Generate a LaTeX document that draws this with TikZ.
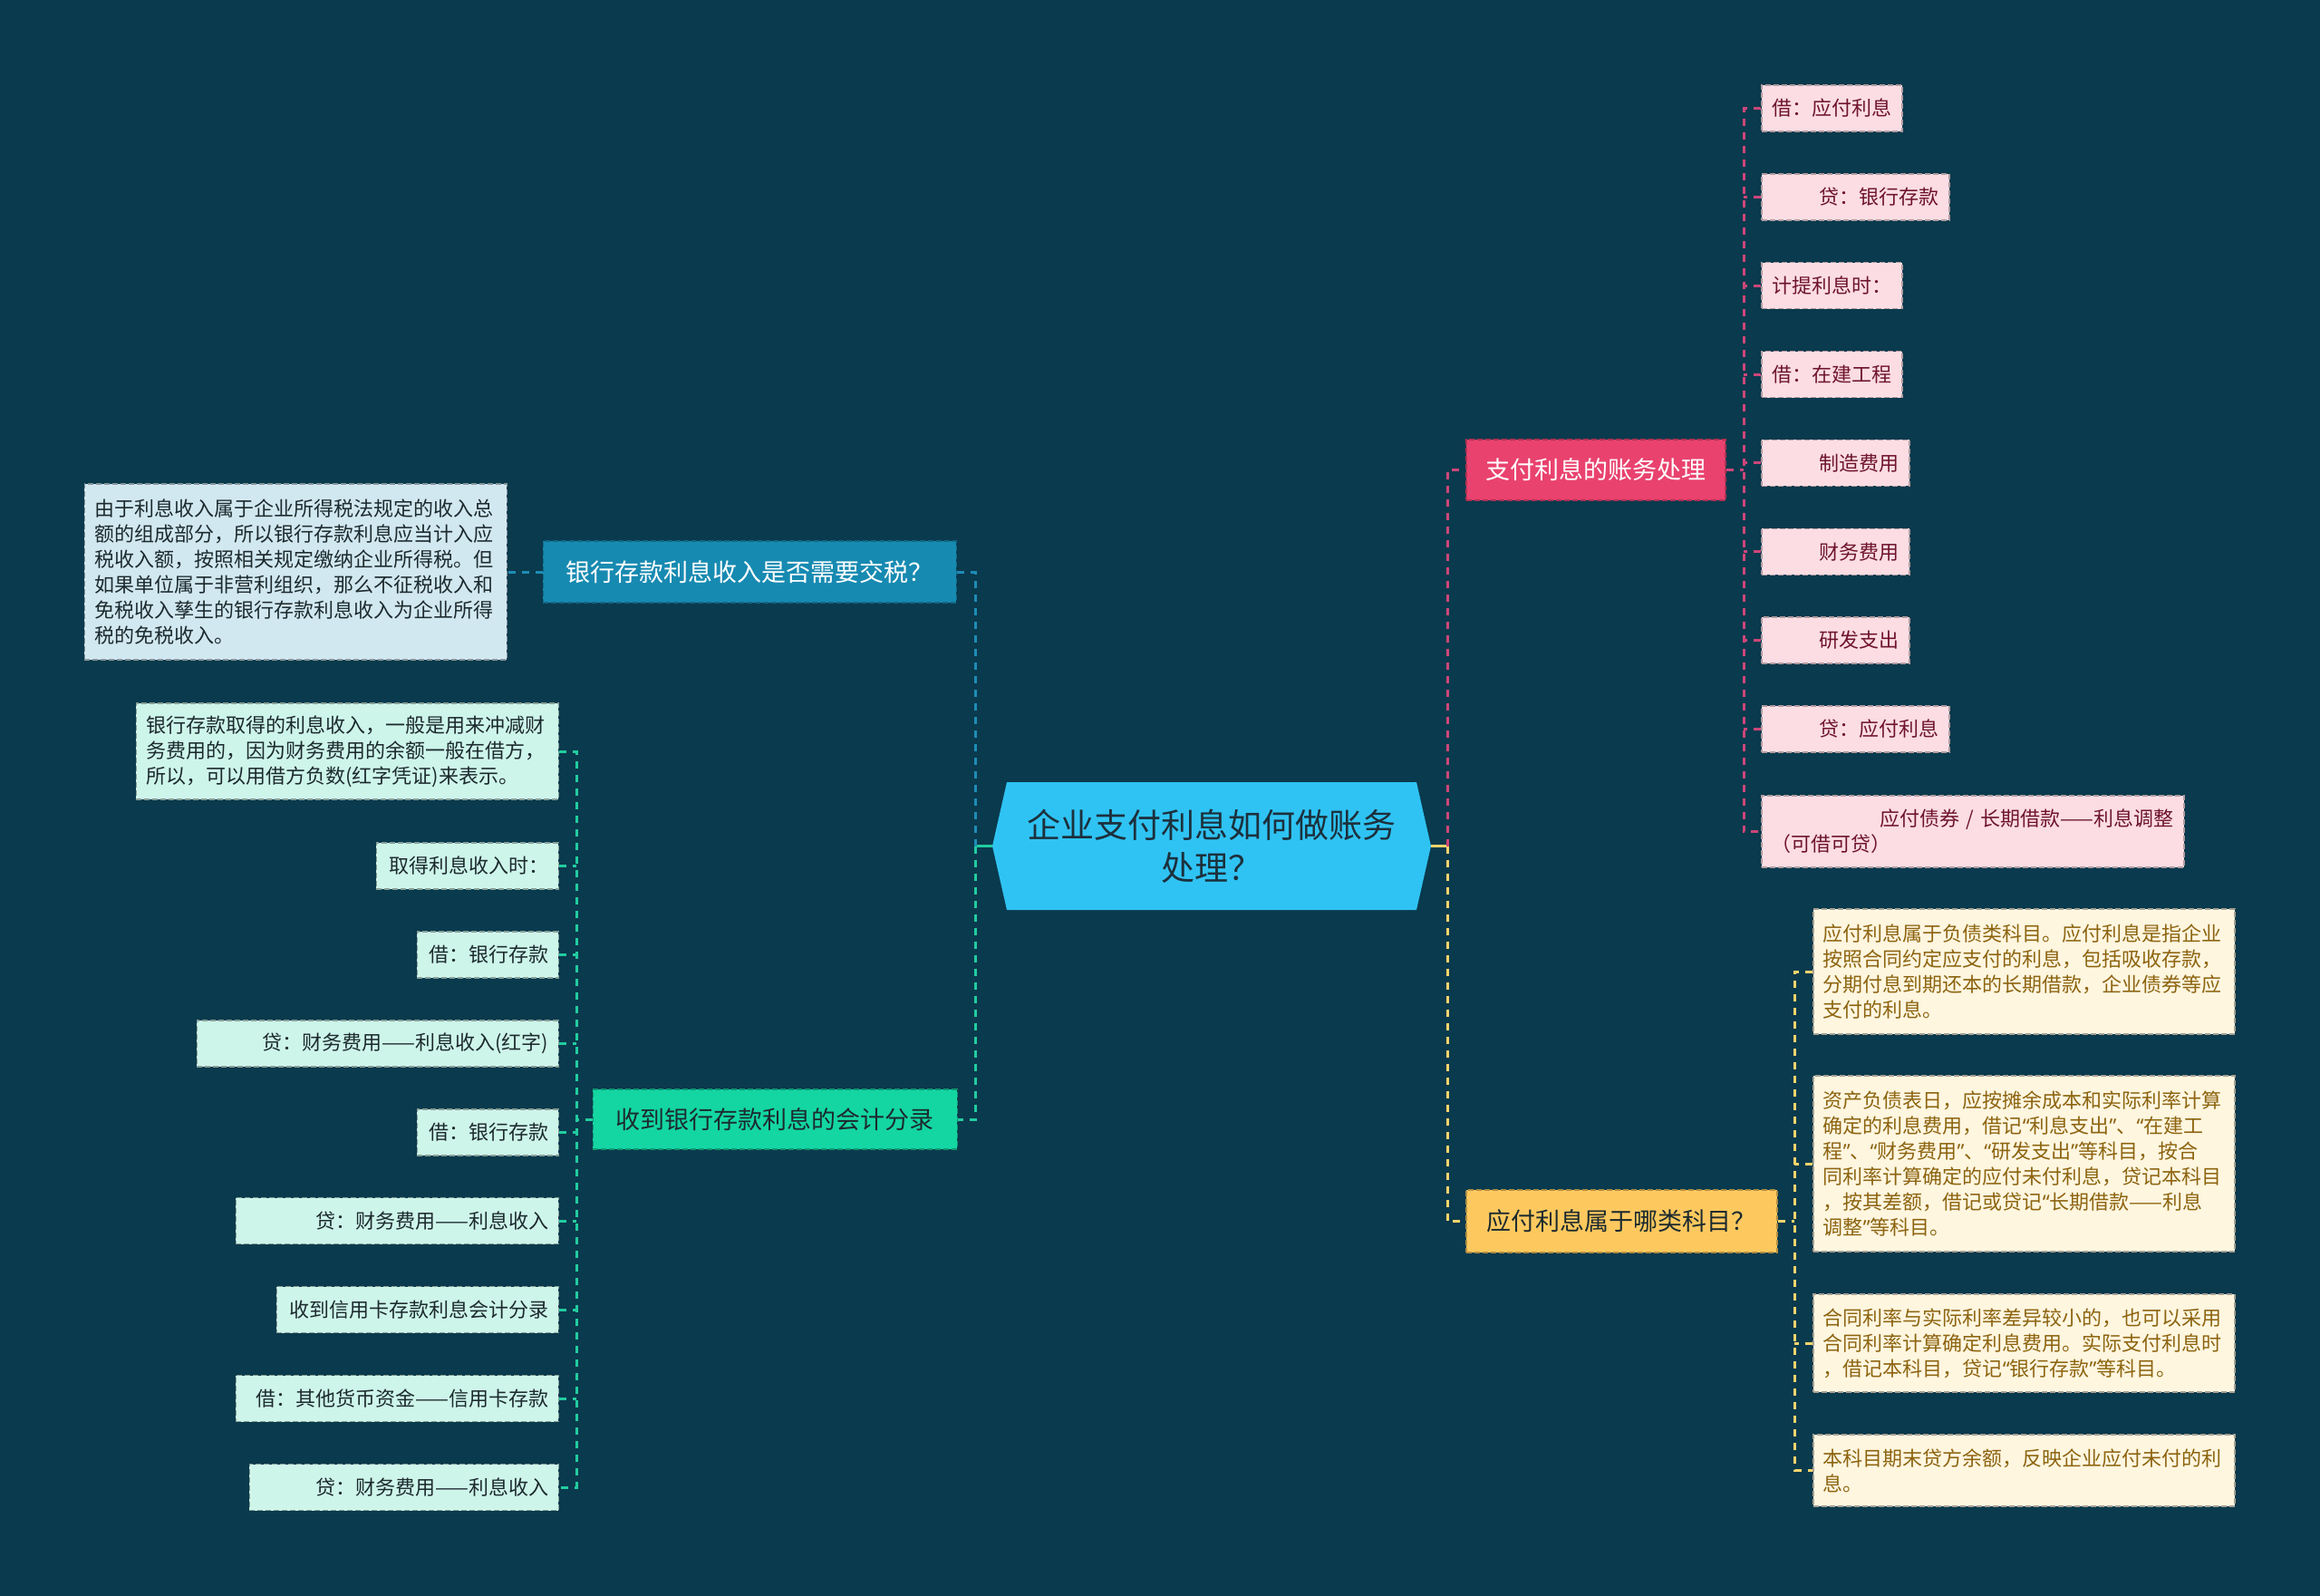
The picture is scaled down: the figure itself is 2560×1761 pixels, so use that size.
\documentclass[tikz,border=0pt]{standalone}
\usepackage{fontspec}
\setmainfont{Noto Sans CJK SC}
\newfontfamily\quotefont{Noto Sans}
\newcommand{\qopen}{{\quotefont “}}
\newcommand{\qclose}{{\quotefont ”}}
\usepackage{tikz}
\usetikzlibrary{positioning}
\definecolor{bgteal}{RGB}{10,58,77}
\definecolor{hubblue}{RGB}{47,195,243}
\definecolor{hubink}{RGB}{28,48,60}
\definecolor{payred}{RGB}{233,66,110}
\definecolor{payfill}{RGB}{252,221,228}
\definecolor{payink}{RGB}{110,20,45}
\definecolor{paylink}{RGB}{205,70,122}
\definecolor{oweyellow}{RGB}{253,201,95}
\definecolor{owefill}{RGB}{255,246,224}
\definecolor{oweink}{RGB}{140,100,15}
\definecolor{owelink}{RGB}{248,212,108}
\definecolor{taxblue}{RGB}{23,138,177}
\definecolor{taxfill}{RGB}{210,232,240}
\definecolor{taxlink}{RGB}{30,140,182}
\definecolor{recgreen}{RGB}{20,214,162}
\definecolor{recfill}{RGB}{206,245,234}
\definecolor{reclink}{RGB}{34,204,160}
\definecolor{darkink}{RGB}{28,42,46}

\tikzset{
    branchbox/.style={inner sep=0pt, dash pattern=on 6pt off 3pt, line width=1.5pt,
        font=\fontsize{27}{32}\selectfont},
    leafbox/.style={inner xsep=11pt, inner ysep=0pt, minimum height=51pt,
        dash pattern=on 6pt off 3pt, line width=1.5pt,
        font=\fontsize{22}{28}\selectfont, align=right},
    payleaf/.style={leafbox, fill=payfill, draw=payfill!70!black, text=payink},
    oweleaf/.style={leafbox, fill=owefill, draw=owefill!65!black, text=oweink, align=left},
    taxleaf/.style={leafbox, fill=taxfill, draw=taxfill!65!black, text=darkink, align=left},
    recleaf/.style={leafbox, fill=recfill, draw=recfill!65!black, text=darkink},
    link/.style={line width=3pt, dash pattern=on 8pt off 7pt},
    hubstub/.style={line width=3pt}
}

\begin{document}
\begin{tikzpicture}[x=1pt,y=-1pt]
    \fill[bgteal] (0,0) rectangle (2560,1761);
    \useasboundingbox (0,0) rectangle (2560,1761);

    % centre
    \fill[hubblue] (1111,863) -- (1563,863) -- (1579,933.5) -- (1563,1004)
        -- (1111,1004) -- (1095,933.5) -- cycle;
    \node[
        inner sep=0pt,
        minimum width=484pt,
        minimum height=141pt,
        text=hubink,
        align=center,
        font=\fontsize{37}{47}\selectfont
    ] (hub) at (1337,933.5) {企业支付利息如何做账务\\处理？};

    % branches
    \node[branchbox, fill=payred, draw=payred!75!black, text=white,
        minimum width=286pt, minimum height=67pt, anchor=west] (pay) at (1617,518.5) {支付利息的账务处理};
    \node[branchbox, fill=oweyellow, draw=oweyellow!70!black, text=darkink,
        minimum width=343pt, minimum height=69pt, anchor=west] (owe) at (1617,1347.5) {应付利息属于哪类科目？};
    \node[branchbox, fill=taxblue, draw=taxblue!75!black, text=white,
        minimum width=456pt, minimum height=68pt, anchor=east] (tax) at (1056,631) {银行存款利息收入是否需要交税？};
    \node[branchbox, fill=recgreen, draw=recgreen!70!black, text=darkink,
        minimum width=402pt, minimum height=66pt, anchor=east] (rec) at (1057,1235) {收到银行存款利息的会计分录};

    % junctions
    \coordinate (rjoin) at (1597,933.5);
    \coordinate (ljoin) at (1076,933.5);
    \coordinate (payjoin) at (1924,518.5);
    \coordinate (owejoin) at (1980,1347.5);
    \coordinate (recjoin) at (636,1235);

    % pay leaves
    \node[payleaf, text width=133pt, anchor=west] (pay1) at (1943,119.5) {借：应付利息};
    \node[payleaf, text width=185pt, anchor=west] (pay2) at (1943,217.4) {贷：银行存款};
    \node[payleaf, text width=133pt, anchor=west] (pay3) at (1943,315.2) {计提利息时：};
    \node[payleaf, text width=133pt, anchor=west] (pay4) at (1943,413.1) {借：在建工程};
    \node[payleaf, text width=141pt, anchor=west] (pay5) at (1943,510.9) {制造费用};
    \node[payleaf, text width=141pt, anchor=west] (pay6) at (1943,608.8) {财务费用};
    \node[payleaf, text width=141pt, anchor=west] (pay7) at (1943,706.6) {研发支出};
    \node[payleaf, text width=185pt, anchor=west] (pay8) at (1943,804.5) {贷：应付利息};
    \node[payleaf, text width=444pt, minimum height=79pt, align=left, anchor=west] (pay9) at (1943,917.5)
        {\hspace*{0pt plus 1fill}应付债券 / 长期借款——利息调整\\（可借可贷）};

    % owe leaves
    \node[oweleaf, text width=443pt, minimum height=138pt, anchor=west] (owe1) at (2000,1072)
        {应付利息属于负债类科目。应付利息是指企业\\按照合同约定应支付的利息，包括吸收存款，\\分期付息到期还本的长期借款，企业债券等应\\支付的利息。};
    \node[oweleaf, text width=443pt, minimum height=194pt, anchor=west] (owe2) at (2000,1284)
        {资产负债表日，应按摊余成本和实际利率计算\\确定的利息费用，借记\qopen 利息支出\qclose 、\qopen 在建工\\程\qclose 、\qopen 财务费用\qclose 、\qopen 研发支出\qclose 等科目，按合\\同利率计算确定的应付未付利息，贷记本科目\\，按其差额，借记或贷记\qopen 长期借款——利息\\调整\qclose 等科目。};
    \node[oweleaf, text width=443pt, minimum height=108pt, anchor=west] (owe3) at (2000,1482)
        {合同利率与实际利率差异较小的，也可以采用\\合同利率计算确定利息费用。实际支付利息时\\，借记本科目，贷记\qopen 银行存款\qclose 等科目。};
    \node[oweleaf, text width=443pt, minimum height=79pt, anchor=west] (owe4) at (2000,1622.5)
        {本科目期末贷方余额，反映企业应付未付的利\\息。};

    % tax note
    \node[taxleaf, text width=444pt, minimum height=194pt, anchor=east] (taxnote) at (560,631)
        {由于利息收入属于企业所得税法规定的收入总\\额的组成部分，所以银行存款利息应当计入应\\税收入额，按照相关规定缴纳企业所得税。但\\如果单位属于非营利组织，那么不征税收入和\\免税收入孳生的银行存款利息收入为企业所得\\税的免税收入。};

    % rec leaves
    \node[recleaf, text width=444pt, minimum height=106pt, align=left, anchor=east] (rec1) at (617,829)
        {银行存款取得的利息收入，一般是用来冲减财\\务费用的，因为财务费用的余额一般在借方，\\所以，可以用借方负数(红字凭证)来表示。};
    \node[recleaf, text width=179pt, anchor=east] (rec2) at (617,955.5) {取得利息收入时：};
    \node[recleaf, text width=134pt, anchor=east] (rec3) at (617,1053.5) {借：银行存款};
    \node[recleaf, text width=377pt, anchor=east] (rec4) at (617,1151.5) {贷：财务费用——利息收入(红字)};
    \node[recleaf, text width=134pt, anchor=east] (rec5) at (617,1249.5) {借：银行存款};
    \node[recleaf, text width=334pt, anchor=east] (rec6) at (617,1347) {贷：财务费用——利息收入};
    \node[recleaf, text width=289pt, anchor=east] (rec7) at (617,1445) {收到信用卡存款利息会计分录};
    \node[recleaf, text width=334pt, anchor=east] (rec8) at (617,1543) {借：其他货币资金——信用卡存款};
    \node[recleaf, text width=319pt, anchor=east] (rec9) at (617,1641) {贷：财务费用——利息收入};

    % centre links
    \draw[hubstub, draw=owelink] (hub.east) -- (rjoin);
    \draw[link, draw=paylink] (rjoin) |- (pay.west);
    \draw[link, draw=owelink] (rjoin) |- (owe.west);
    \draw[hubstub, draw=reclink] (hub.west) -- (ljoin);
    \draw[link, draw=taxlink] (ljoin) |- (tax.east);
    \draw[link, draw=reclink] (ljoin) |- (rec.east);

    % pay links
    \draw[link, draw=paylink] (pay.east) -- (payjoin);
    \draw[link, draw=paylink] (pay1.west) -- (pay1.west -| payjoin) -- (pay9.west -| payjoin) -- (pay9.west);
    \draw[link, draw=paylink] (pay2.west) -- (pay2.west -| payjoin);
    \draw[link, draw=paylink] (pay3.west) -- (pay3.west -| payjoin);
    \draw[link, draw=paylink] (pay4.west) -- (pay4.west -| payjoin);
    \draw[link, draw=paylink] (pay5.west) -- (pay5.west -| payjoin);
    \draw[link, draw=paylink] (pay6.west) -- (pay6.west -| payjoin);
    \draw[link, draw=paylink] (pay7.west) -- (pay7.west -| payjoin);
    \draw[link, draw=paylink] (pay8.west) -- (pay8.west -| payjoin);

    % owe links
    \draw[link, draw=owelink] (owe.east) -- (owejoin);
    \draw[link, draw=owelink] (owe1.west) -- (owe1.west -| owejoin) -- (owe4.west -| owejoin) -- (owe4.west);
    \draw[link, draw=owelink] (owe2.west) -- (owe2.west -| owejoin);
    \draw[link, draw=owelink] (owe3.west) -- (owe3.west -| owejoin);

    % tax link
    \draw[link, draw=taxlink] (tax.west) -- (taxnote.east);

    % rec links
    \draw[link, draw=reclink] (rec.west) -- (recjoin);
    \draw[link, draw=reclink] (rec1.east) -- (rec1.east -| recjoin) -- (rec9.east -| recjoin) -- (rec9.east);
    \draw[link, draw=reclink] (rec2.east) -- (rec2.east -| recjoin);
    \draw[link, draw=reclink] (rec3.east) -- (rec3.east -| recjoin);
    \draw[link, draw=reclink] (rec4.east) -- (rec4.east -| recjoin);
    \draw[link, draw=reclink] (rec5.east) -- (rec5.east -| recjoin);
    \draw[link, draw=reclink] (rec6.east) -- (rec6.east -| recjoin);
    \draw[link, draw=reclink] (rec7.east) -- (rec7.east -| recjoin);
    \draw[link, draw=reclink] (rec8.east) -- (rec8.east -| recjoin);
\end{tikzpicture}
\end{document}
